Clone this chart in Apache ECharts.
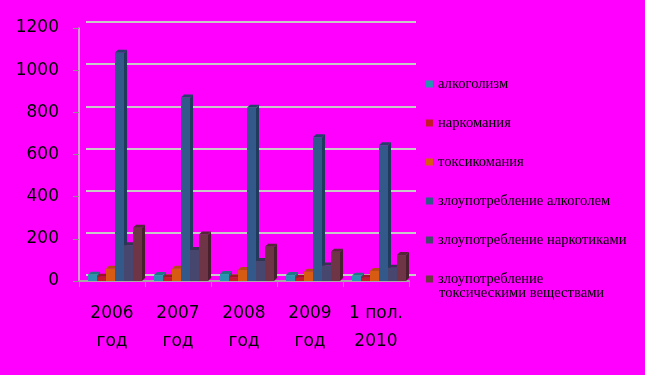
<!DOCTYPE html>
<html><head><meta charset="utf-8">
<script src="https://cdn.jsdelivr.net/npm/echarts@6/dist/echarts.min.js"></script>
<style>html,body{margin:0;padding:0;background:#ff00ff;}#c{width:645px;height:375px;}</style>
</head><body><div id="c"></div>
<script>
const categories = ['2006\nгод', '2007\nгод', '2008\nгод', '2009\nгод', '1 пол.\n2010'];
const seriesNames = ['алкоголизм', 'наркомания', 'токсикомания', 'злоупотребление алкоголем', 'злоупотребление наркотиками', 'злоупотребление'];
const lastNameSecondLine = 'токсическими веществами';
const alcoholism = [30, 28, 33, 28, 25];
const narcomania = [20, 18, 18, 15, 15];
const toxicomania = [58, 58, 52, 44, 48];
const alcoholAbuse = [1083, 870, 822, 682, 644];
const narcoticsAbuse = [170, 147, 95, 73, 63];
const toxicAbuse = [253, 221, 163, 139, 123];
const yTicks = [0, 200, 400, 600, 800, 1000, 1200];

const allData = [alcoholism, narcomania, toxicomania, alcoholAbuse, narcoticsAbuse, toxicAbuse];
const palette = [
  {front:'#2b93b1', side:'#1c6679', top:'#207887'},
  {front:'#c41a2c', side:'#8a1020', top:'#9c1626'},
  {front:'#d85b14', side:'#9a400e', top:'#b04c12'},
  {front:'#33598a', side:'#203a5e', top:'#24406a'},
  {front:'#46466f', side:'#2c2c48', top:'#343452'},
  {front:'#6e3547', side:'#47202e', top:'#532736'}
];

function makeRender(i){
  return function(params, api){
    const cat = api.value(0), val = api.value(1);
    const base = api.coord([cat, 0]);
    const tp = api.coord([cat, val]);
    const band = api.size([1, 0])[0];
    const s = band / 66;
    const x0 = base[0] - band / 2 + (9 + i * 9) * s;
    const w = 9 * s;
    const x1 = x0 + w;
    const dx = 3, dy = -3;
    const c = palette[i];
    return {type:'group', children:[
      {type:'polygon', shape:{points:[[x1,tp[1]],[x1+dx,tp[1]+dy],[x1+dx,base[1]+dy],[x1,base[1]]]}, style:{fill:c.side}},
      {type:'polygon', shape:{points:[[x0,tp[1]],[x1,tp[1]],[x1+dx,tp[1]+dy],[x0+dx,tp[1]+dy]]}, style:{fill:c.top}},
      {type:'rect', shape:{x:x0, y:tp[1], width:w, height:base[1]-tp[1]}, style:{fill:c.front}}
    ]};
  };
}

const series = allData.map((d, i) => ({
  type:'custom', name:seriesNames[i], xAxisIndex:0, yAxisIndex:0,
  itemStyle:{color:palette[i].front},
  renderItem: makeRender(i),
  encode:{x:0, y:1},
  data: d.map((v, k) => [k, v]),
  z: 3
}));

const chart = echarts.init(document.getElementById('c'), null, {renderer:'canvas'});
chart.setOption({
  backgroundColor:'#ff00ff',
  animation:false,
  legend:{
    orient:'vertical', left:421, top:70,
    icon:'rect', itemWidth:7, itemHeight:7, itemGap:21,
    textStyle:{fontFamily:'Liberation Serif', fontSize:14.6, color:'#000', lineHeight:18},
    data: seriesNames
  },
  graphic:[
    {type:'text', left:439, top:286, style:{text:lastNameSecondLine, font:'14.6px "Liberation Serif"', fill:'#000'}}
  ],
  grid:[
    {left:79, right:236, top:28, bottom:94},
    {left:86, right:229, top:22, bottom:100}
  ],
  xAxis:[
    {type:'category', gridIndex:0, data:categories, boundaryGap:true,
      axisLine:{lineStyle:{color:'#a8a8a8', width:2}},
      axisTick:{show:true, length:6, lineStyle:{color:'#a0a0a0'}},
      axisLabel:{fontFamily:'DejaVu Sans', fontSize:17, color:'#000', lineHeight:28, margin:19, interval:0}
    },
    {type:'category', gridIndex:1, data:categories, show:false}
  ],
  yAxis:[
    {type:'value', gridIndex:0, min:0, max:1200, interval:200,
      axisLine:{show:true, lineStyle:{color:'#c8c8c8', width:1.5}},
      axisTick:{show:true, length:6, lineStyle:{color:'#909090'}},
      splitLine:{show:false},
      axisLabel:{fontFamily:'DejaVu Sans', fontSize:17, color:'#000', margin:20, padding:[5,0,0,0],
        formatter:(v)=> yTicks.includes(v) ? String(v) : ''}
    },
    {type:'value', gridIndex:1, min:0, max:1200, interval:200,
      axisLine:{show:false}, axisTick:{show:false}, axisLabel:{show:false},
      splitLine:{show:true, lineStyle:{color:'#c8c8c8', width:2}}
    }
  ],
  series: series
});
</script></body></html>
